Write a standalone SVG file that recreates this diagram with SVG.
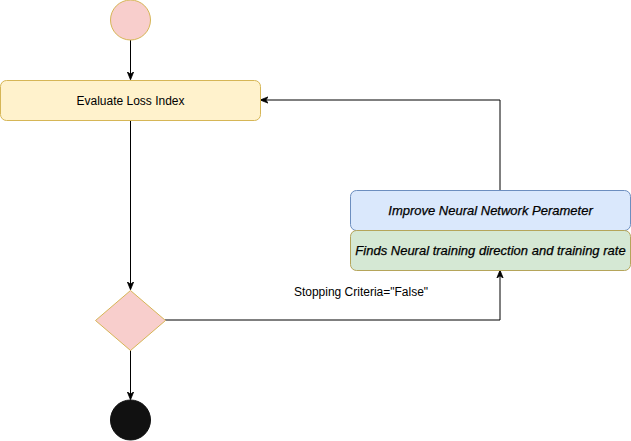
<svg xmlns="http://www.w3.org/2000/svg" width="631" height="441" viewBox="0 0 631 441">
<style>
.t{font-family:"Liberation Sans",Arial,sans-serif;font-size:12px;fill:#000;text-anchor:middle;dominant-baseline:central}
.i{font-style:italic;font-size:13px;stroke:#000;stroke-width:0.25}
.e{fill:none;stroke:#000;stroke-width:1}
</style>
<defs>
<marker id="a" viewBox="0 0 10 10" refX="9" refY="5" markerWidth="8" markerHeight="8" markerUnits="userSpaceOnUse" orient="auto">
<path d="M0,1 L10,5 L0,9 L3,5 Z" fill="#000" stroke="#000" stroke-width="1"/>
</marker>
</defs>
<g id="connectors">
<path class="e" d="M130.5,40 V79" marker-end="url(#a)"/>
<path class="e" d="M130.5,120 V289" marker-end="url(#a)"/>
<path class="e" d="M130.5,350 V399" marker-end="url(#a)"/>
<path class="e" d="M165,320 H500 V271" marker-end="url(#a)"/>
<path class="e" d="M500,190 V100 H261" marker-end="url(#a)"/>
<text class="t" x="361" y="292">Stopping Criteria="False"</text>
</g>
<g id="start"><circle cx="130.5" cy="20" r="20" fill="#f8cecc" stroke="#d6b656"/></g>
<g id="evaluate"><rect x="0.5" y="80.5" width="260" height="40" rx="6" fill="#fff2cc" stroke="#d6b656"/><text class="t" x="130.5" y="100.5">Evaluate Loss Index</text></g>
<g id="improve"><rect x="350.5" y="190.5" width="280" height="40" rx="6" fill="#dae8fc" stroke="#6c8ebf"/><text class="t i" x="490.5" y="210.5">Improve Neural Network Perameter</text></g>
<g id="finds"><rect x="350.5" y="230.5" width="280" height="40" rx="6" fill="#d5e8d4" stroke="#b5a55a"/><text class="t i" x="490.5" y="250.5">Finds Neural training direction and training rate</text></g>
<g id="decision"><polygon points="130.5,290.5 165.5,320.5 130.5,350.5 95.5,320.5" fill="#f8cecc" stroke="#d6b656"/></g>
<g id="end"><circle cx="130.5" cy="420" r="20" fill="#111" stroke="#111"/></g>
</svg>
